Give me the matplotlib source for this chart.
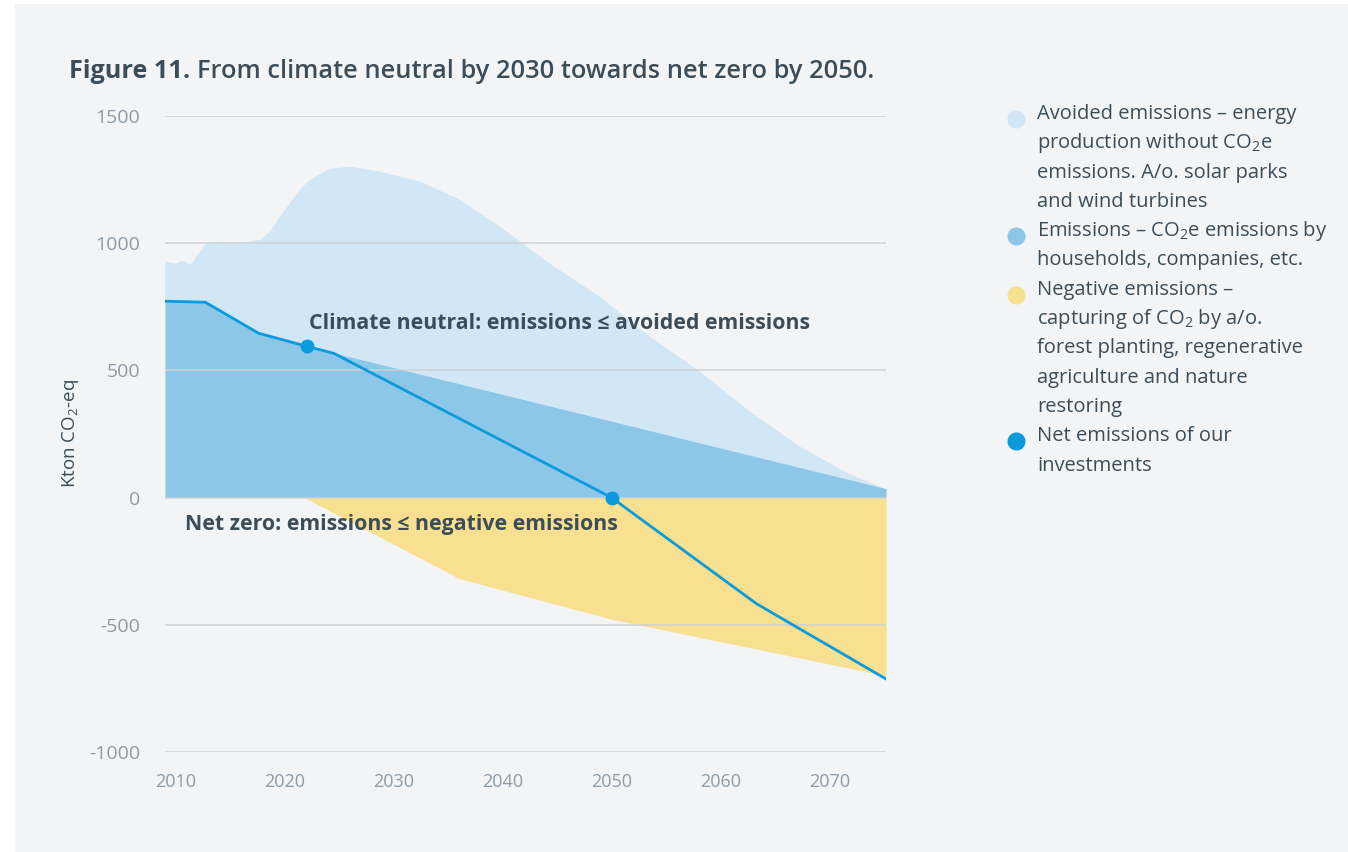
import matplotlib
matplotlib.use('Agg')
import matplotlib.pyplot as plt
from matplotlib.patches import Rectangle
from matplotlib.lines import Line2D

plt.rcParams['font.family'] = ['Open Sans', 'DejaVu Sans']
plt.rcParams['mathtext.fontset'] = 'custom'
plt.rcParams['mathtext.rm'] = 'Open Sans'
plt.rcParams['mathtext.bf'] = 'Open Sans:bold'
plt.rcParams['axes.unicode_minus'] = False

# data (kton CO2-eq)
avoid_years = [2009, 2010, 2010.5, 2011.3, 2012.7, 2013.6, 2016, 2017.7, 2018.6, 2019.6,
               2020.5, 2021.4, 2022.3, 2024.1, 2026, 2028.7, 2032.4, 2036, 2039.7,
               2044.3, 2048.9, 2053.5, 2058.1, 2062.7, 2067.3, 2071.8, 2075.2]
avoid_vals = [929, 921, 933, 917, 1000, 1008, 1004, 1016, 1047, 1110,
              1165, 1215, 1252, 1295, 1303, 1283, 1244, 1173, 1067,
              921, 791, 634, 496, 339, 201, 94, 35]

emis_years = [2009, 2012.7, 2017.6, 2022, 2075.2]
emis_vals = [772, 768, 646, 595, 35]

neg_years = [2021.8, 2036, 2050, 2075.2]
neg_vals = [0, -318, -478, -700]

net_years = [2009, 2012.7, 2017.6, 2022, 2024.5, 2050, 2063.3, 2075.2]
net_vals = [772, 768, 646, 595, 567, 0, -417, -713]
net_dots = [3, 5]

yticks = [1500, 1000, 500, 0, -500, -1000]
xticks = [2010, 2020, 2030, 2040, 2050, 2060, 2070]

legend_items = [
    ('#d1e7f5', ['Avoided emissions – energy', 'production without CO$_2$e',
                 'emissions. A/o. solar parks', 'and wind turbines']),
    ('#8dc7e8', ['Emissions – CO$_2$e emissions by', 'households, companies, etc.']),
    ('#f7e08f', ['Negative emissions –', 'capturing of CO$_2$ by a/o.',
                 'forest planting, regenerative', 'agriculture and nature', 'restoring']),
    ('#0a9bdc', ['Net emissions of our', 'investments']),
]

dark = '#3c4d5a'
grey = '#8d9ba7'
W, H = 1348, 852

fig = plt.figure(figsize=(W / 100, H / 100), dpi=100, facecolor='white')
fig.patches.append(Rectangle((15 / W, 0), 1 - 15 / W, 1 - 4 / H, transform=fig.transFigure,
                             facecolor='#f3f4f6', edgecolor='none', zorder=-10))

ax = fig.add_axes([165 / W, 1 - 752 / H, (886 - 165) / W, (752 - 116) / H])
ax.set_facecolor('none')

ax.fill_between(avoid_years, 0, avoid_vals, color='#d1e7f5', lw=0, zorder=1)
ax.fill_between(emis_years, 0, emis_vals, color='#8dc7e8', lw=0, zorder=1.1)
ax.fill_between(neg_years, neg_vals, 0, color='#f7e08f', lw=0, zorder=1.2)
ax.plot(net_years, net_vals, color='#0a9bdc', lw=2, marker='o', ms=9,
        markevery=net_dots, zorder=3, solid_joinstyle='round')

ax.set_xlim(2009, 2075.2)
ax.set_ylim(-1000, 1500)
ax.set_yticks(yticks)
ax.set_xticks(xticks)
ax.grid(axis='y', color='#cfd2d5', lw=1.1)
ax.set_axisbelow(False)
for s in ax.spines.values():
    s.set_visible(False)
ax.tick_params(length=0, colors=grey)
ax.tick_params(axis='y', pad=18, labelsize=14)
ax.tick_params(axis='x', pad=15, labelsize=13)
ax.set_ylabel('Kton CO$_2$-eq', fontsize=13.5, color=dark, labelpad=6)

ax.text(2022.2, 685, 'Climate neutral: emissions ≤ avoided emissions', fontsize=15.3,
        fontweight='bold', color=dark, va='center', zorder=4)
ax.text(2010.8, -105, 'Net zero: emissions ≤ negative emissions', fontsize=15.3,
        fontweight='bold', color=dark, va='center', zorder=4)

t1 = fig.text(69 / W, 1 - 72 / H, 'Figure 11.', fontsize=18.2, fontweight='bold',
              color=dark, va='center')
ax.annotate('From climate neutral by 2030 towards net zero by 2050.', xy=(1, 0),
            xycoords=t1, xytext=(5, 0), textcoords='offset points', va='bottom',
            fontsize=18.3, fontweight='semibold', color=dark, annotation_clip=False)

# legend drawn by hand so markers sit at the first line of each entry
y = 114
step = 29.3
for color, lines in legend_items:
    fig.add_artist(Line2D([1016 / W], [1 - (y + 5) / H], transform=fig.transFigure,
                          marker='o', ms=12, color=color, lw=0))
    for line in lines:
        fig.text(1037 / W, 1 - y / H, line, fontsize=14.5, color=dark, va='center')
        y += step

fig.savefig('out.png', dpi=100, facecolor=fig.get_facecolor())
